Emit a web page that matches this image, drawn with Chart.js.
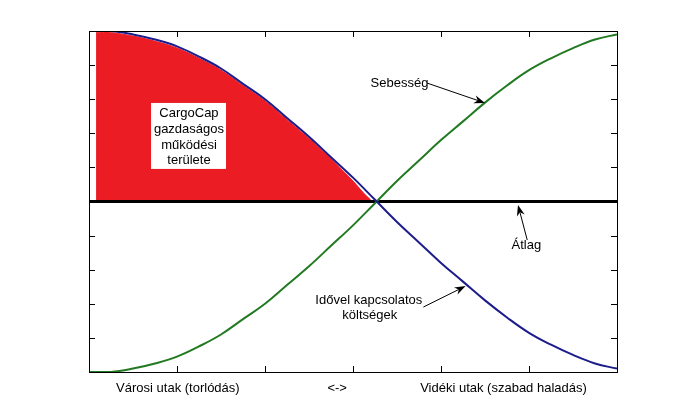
<!DOCTYPE html>
<html>
<head>
<meta charset="utf-8">
<script src="https://cdn.jsdelivr.net/npm/chart.js@4"></script>
<style>
  body { margin: 0; background: #fff; }
</style>
</head>
<body>
<canvas id="chart" width="681" height="418"></canvas>
<script>
// Curve samples
const xValues = [0, 0.25, 0.5, 0.75, 1, 1.25, 1.5, 1.75, 2, 2.25, 2.5, 2.75, 3,
                 3.25, 3.5, 3.75, 4, 4.25, 4.5, 4.75, 5, 5.25, 5.5, 5.75, 6];
const costValues = [1.00, 1.00, 0.98, 0.95, 0.91, 0.85, 0.78, 0.69, 0.60, 0.49, 0.38, 0.26, 0.14,
                    0.01, -0.12, -0.24, -0.36, -0.47, -0.58, -0.68, -0.77, -0.84, -0.90, -0.95, -0.98];
const speedValues = [-1.00, -1.00, -0.98, -0.95, -0.91, -0.85, -0.78, -0.69, -0.60, -0.49, -0.38, -0.26, -0.14,
                     -0.01, 0.12, 0.24, 0.36, 0.47, 0.58, 0.68, 0.77, 0.84, 0.90, 0.95, 0.98];

// Red "CargoCap" region (painted under the cost curve)
const areaX = [0.08, 0.25, 0.5, 0.75, 1, 1.25, 1.5, 1.75, 2, 2.25, 2.5, 2.75, 3, 3.12, 3.2];
const areaY = [0.99, 0.99, 0.97, 0.94, 0.90, 0.84, 0.77, 0.68, 0.59, 0.48, 0.37, 0.25, 0.12, 0.05, 0.01];

// Average line
const avgX = [0, 6];
const avgY = [0, 0];

// Axis ticks (no numbers shown)
const xTicks = [0, 1, 2, 3, 4, 5, 6];
const yTicks = [-1, -0.8, -0.6, -0.4, -0.2, 0, 0.2, 0.4, 0.6, 0.8, 1];

// Bottom captions
const captions = ['Városi utak (torlódás)', '<->', 'Vidéki utak (szabad haladás)'];
const captionX = [1.01, 2.82, 4.71];

const boxLines = ['CargoCap', 'gazdaságos', 'működési', 'területe'];

const colors = {
    red: '#ec1c24',
    blue: '#1c1c8c',
    green: '#217a21',
    black: '#000000'
};

const FONT = '13px "Liberation Sans", Arial, sans-serif';

function points(xs, ys) {
    return xs.map((x, i) => ({ x: x, y: ys[i] }));
}

function arrow(ctx, x1, y1, x2, y2) {
    const ang = Math.atan2(y2 - y1, x2 - x1);
    const len = 11, half = 4;
    ctx.beginPath();
    ctx.moveTo(x1, y1);
    ctx.lineTo(x2 - Math.cos(ang) * len * 0.7, y2 - Math.sin(ang) * len * 0.7);
    ctx.lineWidth = 1;
    ctx.strokeStyle = '#000';
    ctx.stroke();
    ctx.beginPath();
    ctx.moveTo(x2, y2);
    ctx.lineTo(x2 - Math.cos(ang) * len + Math.sin(ang) * half, y2 - Math.sin(ang) * len - Math.cos(ang) * half);
    ctx.lineTo(x2 - Math.cos(ang) * len * 0.7, y2 - Math.sin(ang) * len * 0.7);
    ctx.lineTo(x2 - Math.cos(ang) * len - Math.sin(ang) * half, y2 - Math.sin(ang) * len + Math.cos(ang) * half);
    ctx.closePath();
    ctx.fillStyle = '#000';
    ctx.fill();
}

const decorations = {
    id: 'decorations',
    afterDraw(chart) {
        const ctx = chart.ctx;
        const a = chart.chartArea;
        const xs = chart.scales.x, ys = chart.scales.y;
        const px = v => xs.getPixelForValue(v);
        const py = v => ys.getPixelForValue(v);
        const tick = 6;

        ctx.save();
        // frame
        ctx.strokeStyle = '#000';
        ctx.lineWidth = 1;
        ctx.strokeRect(a.left + 0.5, a.top + 0.5, a.right - a.left, a.bottom - a.top);

        // inward ticks on all four sides
        ctx.beginPath();
        xTicks.slice(1, -1).forEach(t => {
            const x = Math.round(px(t)) + 0.5;
            ctx.moveTo(x, a.bottom); ctx.lineTo(x, a.bottom - tick);
            ctx.moveTo(x, a.top); ctx.lineTo(x, a.top + tick);
        });
        yTicks.slice(1, -1).forEach(t => {
            const y = Math.round(py(t)) + 0.5;
            ctx.moveTo(a.left, y); ctx.lineTo(a.left + tick, y);
            ctx.moveTo(a.right, y); ctx.lineTo(a.right - tick, y);
        });
        ctx.stroke();

        ctx.font = FONT;
        ctx.fillStyle = '#000';
        ctx.textBaseline = 'middle';

        // captions under the axis
        ctx.textAlign = 'center';
        captions.forEach((c, i) => ctx.fillText(c, px(captionX[i]), a.bottom + 16));

        // CargoCap box
        ctx.fillStyle = '#fff';
        ctx.fillRect(px(0.705), py(0.578), px(1.557) - px(0.705), py(0.191) - py(0.578));
        ctx.fillStyle = '#000';
        const lineY = [0.519, 0.425, 0.326, 0.238];
        boxLines.forEach((t, i) => ctx.fillText(t, px(1.136), py(lineY[i])));

        // Sebesség
        ctx.textAlign = 'left';
        ctx.fillText('Sebesség', px(3.20), py(0.695));
        arrow(ctx, px(3.84), py(0.695), px(4.50), py(0.578));

        // Átlag
        ctx.textAlign = 'center';
        ctx.fillText('Átlag', px(4.97), py(-0.26));
        arrow(ctx, px(4.98), py(-0.226), px(4.875), py(-0.02));

        // Idővel kapcsolatos költségek
        ctx.fillText('Idővel kapcsolatos', px(3.18), py(-0.578));
        ctx.fillText('költségek', px(3.19), py(-0.67));
        arrow(ctx, px(3.80), py(-0.619), px(4.28), py(-0.496));

        ctx.restore();
    }
};

new Chart(document.getElementById('chart'), {
    type: 'line',
    data: {
        datasets: [
            {
                label: 'Idővel kapcsolatos költségek',
                data: points(xValues, costValues),
                borderColor: colors.blue,
                borderWidth: 2,
                pointRadius: 0,
                tension: 0.4,
                fill: false,
                order: 1
            },
            {
                label: 'Sebesség',
                data: points(xValues, speedValues),
                borderColor: colors.green,
                borderWidth: 2,
                pointRadius: 0,
                tension: 0.4,
                fill: false,
                order: 2
            },
            {
                label: 'Átlag',
                data: points(avgX, avgY),
                borderColor: colors.black,
                borderWidth: 3,
                pointRadius: 0,
                fill: false,
                order: 3
            },
            {
                label: 'CargoCap',
                data: points(areaX, areaY),
                borderColor: colors.red,
                borderWidth: 1,
                backgroundColor: colors.red,
                pointRadius: 0,
                tension: 0.4,
                fill: 'origin',
                order: 4
            }
        ]
    },
    options: {
        responsive: false,
        animation: false,
        devicePixelRatio: 1,
        layout: { padding: { left: 89, top: 31, right: 64, bottom: 46 } },
        plugins: { legend: { display: false }, tooltip: { enabled: false } },
        scales: {
            x: { type: 'linear', min: 0, max: 6, display: false },
            y: { min: -1, max: 1, display: false }
        }
    },
    plugins: [decorations]
});
</script>
</body>
</html>
